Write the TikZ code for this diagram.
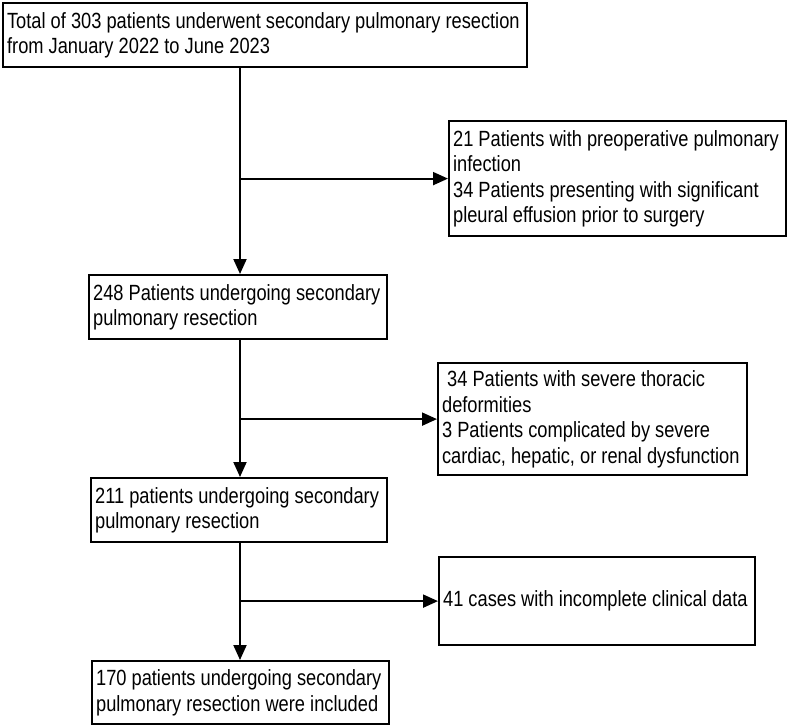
\documentclass[tikz,border=0pt]{standalone}
\usepackage{fontspec}
\setmainfont{Liberation Sans}[FakeStretch=0.83]
\usetikzlibrary{arrows.meta}
\newcommand{\oneline}[1]{\mbox{#1}}
\begin{document}
\begin{tikzpicture}[x=1pt,y=-1pt,
  box/.style={draw, line width=2.2pt, anchor=north west, align=flush left,
    inner xsep=4pt, inner ysep=2pt, font=\fontsize{22}{25.5}\selectfont},
  conn/.style={line width=2pt},
  arr/.style={conn, -{Triangle[length=15pt,width=13pt]}}]
\useasboundingbox (0,0) rectangle (787,726);
\node[box, text width=516pt, minimum height=64pt] (b1) at (2,2)
  {\oneline{Total of 303 patients underwent secondary pulmonary resection}\\\oneline{from January 2022 to June 2023}};
\node[box, text width=329pt, minimum height=115pt] (b2) at (448,120)
  {\oneline{21 Patients with preoperative pulmonary}\\\oneline{infection}\\\oneline{34 Patients presenting with significant}\\\oneline{pleural effusion prior to surgery}};
\node[box, text width=290pt, minimum height=64pt] (b3) at (88,274)
  {\oneline{248 Patients undergoing secondary}\\\oneline{pulmonary resection}};
\node[box, text width=301pt, minimum height=112pt] (b4) at (437,362)
  {\oneline{\ 34 Patients with severe thoracic}\\\oneline{deformities}\\\oneline{3 Patients complicated by severe}\\\oneline{cardiac, hepatic, or renal dysfunction}};
\node[box, text width=288pt, minimum height=64pt] (b5) at (90,477)
  {\oneline{211 patients undergoing secondary}\\\oneline{pulmonary resection}};
\node[box, text width=308pt, minimum height=88pt] (b6) at (438,556)
  {\oneline{41 cases with incomplete clinical data}};
\node[box, text width=289pt, minimum height=63pt] (b7) at (91,660)
  {\oneline{170 patients undergoing secondary}\\\oneline{pulmonary resection were included}};
\coordinate (sp) at (240,0);
\coordinate (j1) at (b2.west -| sp);
\coordinate (j2) at (b4.west -| sp);
\coordinate (j3) at (b6.west -| sp);
\draw[arr] (b1.south -| sp) -- (b3.north -| sp);
\draw[arr] (j1) -- (b2.west);
\draw[arr] (b3.south -| sp) -- (b5.north -| sp);
\draw[arr] (j2) -- (b4.west);
\draw[arr] (b5.south -| sp) -- (b7.north -| sp);
\draw[arr] (j3) -- (b6.west);
\end{tikzpicture}
\end{document}
